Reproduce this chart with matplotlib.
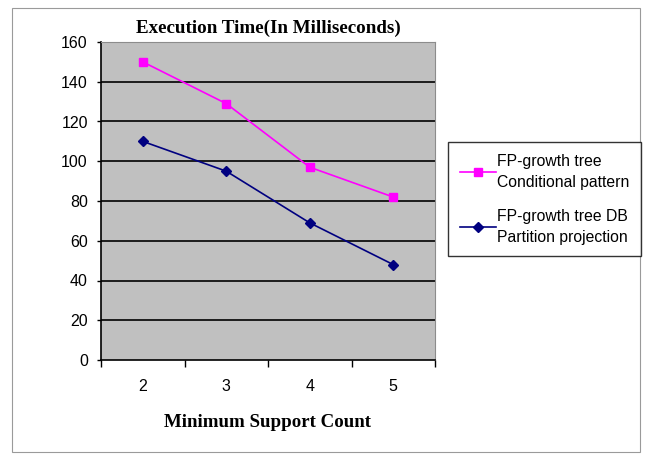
import matplotlib
matplotlib.use("Agg")
import matplotlib.pyplot as plt
from matplotlib.patches import Rectangle

categories = ["2", "3", "4", "5"]
conditional_pattern = [150, 129, 97, 82]
db_partition = [110, 95, 69, 48]
y_ticks = [0, 20, 40, 60, 80, 100, 120, 140, 160]
series_labels = ["FP-growth tree\nConditional pattern", "FP-growth tree DB\nPartition projection"]

fig = plt.figure(figsize=(6.48, 4.61), dpi=100)
fig.patch.set_facecolor("white")

# outer chart frame
fig.add_artist(Rectangle((12 / 648, 9 / 461), 628 / 648, 444 / 461, transform=fig.transFigure,
                         fill=False, edgecolor="#9a9a9a", linewidth=0.8))

ax = fig.add_axes([101 / 648, 1 - 360 / 461, 334 / 648, 318 / 461])
ax.set_facecolor("#c0c0c0")

x = list(range(len(categories)))
ax.plot(x, conditional_pattern, color="#ff00ff", marker="s", markersize=6, linewidth=1.2,
        label=series_labels[0], zorder=3)
ax.plot(x, db_partition, color="#000080", marker="D", markersize=5, linewidth=1.2,
        label=series_labels[1], zorder=3)

ax.set_xlim(-0.5, len(categories) - 0.5)
ax.set_ylim(0, 160)
ax.set_yticks(y_ticks)
ax.set_yticklabels([str(v) for v in y_ticks], fontfamily="Liberation Sans", fontsize=11.5)
ax.set_xticks(x)
ax.set_xticklabels(categories, fontfamily="Liberation Sans", fontsize=11.5)
ax.set_xticks([i - 0.5 for i in range(len(categories) + 1)], minor=True)
ax.tick_params(axis="x", which="major", length=0, pad=14)
ax.tick_params(axis="x", which="minor", length=5, width=1, direction="out")
ax.tick_params(axis="y", length=3, width=1, direction="out", pad=6.5)

for v in y_ticks[1:-1]:
    ax.axhline(v, color="black", linewidth=1.2, zorder=1)

for side in ["left", "bottom"]:
    ax.spines[side].set_color("black")
    ax.spines[side].set_linewidth(1.2)
for side in ["top", "right"]:
    ax.spines[side].set_color("#8c8c8c")
    ax.spines[side].set_linewidth(0.8)

ax.set_title("Execution Time(In Milliseconds)", fontfamily="Liberation Serif",
             fontweight="bold", fontsize=13.7, pad=6.5)
ax.set_xlabel("Minimum Support Count", fontfamily="Liberation Serif",
              fontweight="bold", fontsize=13.6, labelpad=14)

leg = fig.legend(loc="upper left", bbox_to_anchor=(448 / 648, 1 - 142 / 461),
                 prop={"family": "Liberation Sans", "size": 11.3},
                 frameon=True, fancybox=False, edgecolor="black", handlelength=2.3,
                 handletextpad=0.05, borderpad=0.75, labelspacing=1.2, borderaxespad=0)
leg.get_frame().set_linewidth(1.0)
for t in leg.get_texts():
    t.set_linespacing(1.5)

fig.savefig("out.png", dpi=100, facecolor="white")
